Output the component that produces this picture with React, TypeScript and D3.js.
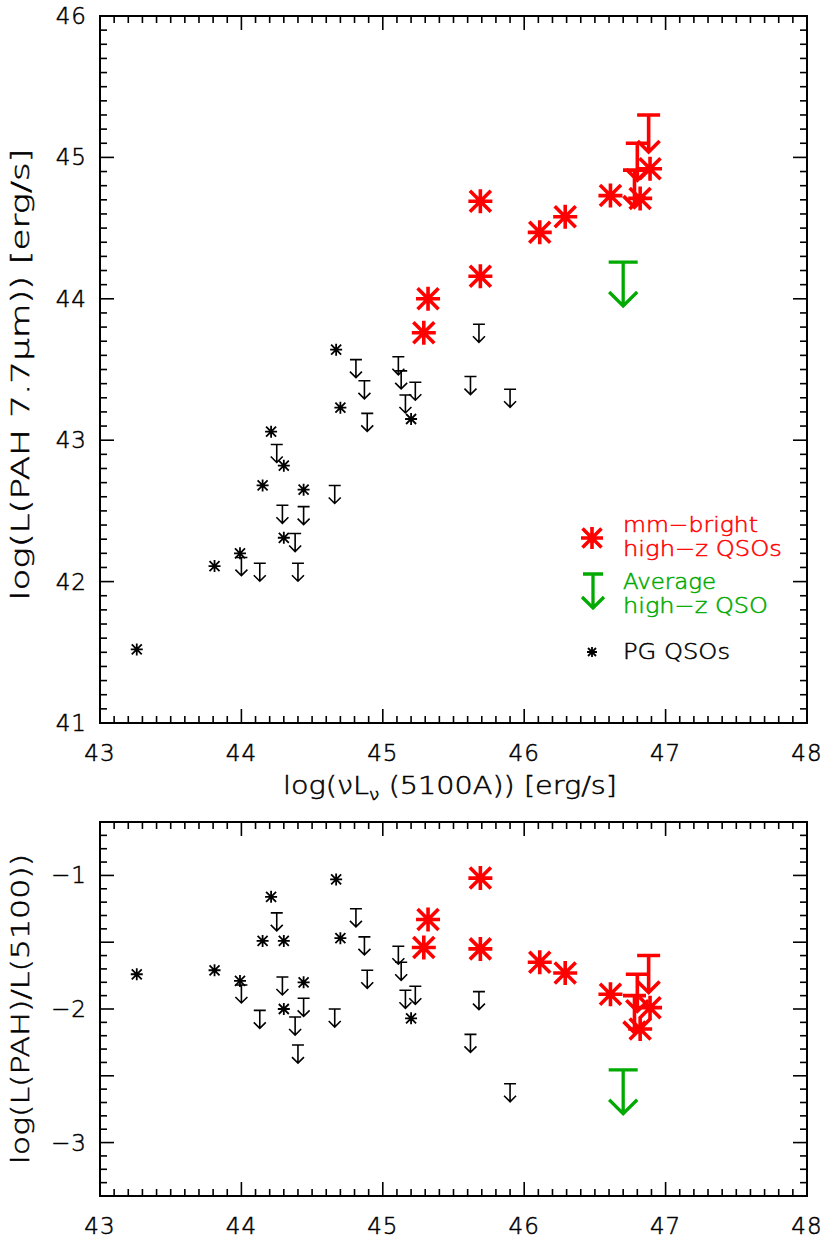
import { useEffect, useRef } from "react";
import * as d3 from "d3";

// PG QSOs with PAH 7.7um detections
const pgX = [43.26, 43.81, 43.99, 44.15, 44.21, 44.30, 44.30, 44.44, 44.67, 44.70, 45.20];
const pgPah = [41.52, 42.11, 42.20, 42.68, 43.06, 42.82, 42.31, 42.65, 43.64, 43.23, 43.15];
const pgRatio = [-1.74, -1.71, -1.79, -1.49, -1.16, -1.49, -2.00, -1.80, -1.03, -1.47, -2.07];

// PG QSOs, PAH upper limits
const pgLimX = [44.00, 44.13, 44.25, 44.29, 44.38, 44.40, 44.44, 44.66, 44.81, 44.87, 44.89, 45.11, 45.13, 45.16, 45.23, 45.62, 45.68, 45.90];
const pgLimPah = [42.17, 42.13, 42.97, 42.54, 42.34, 42.13, 42.53, 42.68, 43.57, 43.42, 43.19, 43.59, 43.49, 43.32, 43.41, 43.45, 43.82, 43.36];
const pgLimRatio = [-1.82, -2.01, -1.28, -1.76, -2.06, -2.27, -1.92, -2.00, -1.25, -1.46, -1.71, -1.53, -1.65, -1.86, -1.83, -2.19, -1.87, -2.56];

// mm-bright high-z QSOs
const mmX = [45.29, 45.32, 45.69, 45.69, 46.11, 46.29, 46.61, 46.82, 46.89];
const mmPah = [43.76, 44.00, 44.69, 44.16, 44.47, 44.58, 44.73, 44.71, 44.92];
const mmRatio = [-1.54, -1.33, -1.02, -1.55, -1.65, -1.73, -1.89, -2.15, -1.99];

// mm-bright high-z QSOs, upper limits
const mmLimX = [46.88, 46.80, 46.78];
const mmLimPah = [45.30, 45.10, 44.91];
const mmLimRatio = [-1.60, -1.74, -1.90];

// average (stacked) high-z QSO, upper limit
const avgX = [46.70];
const avgPah = [44.26];
const avgRatio = [-2.455];

const xTickValues = [43, 44, 45, 46, 47, 48];
const legendRed = ["mm\u2212bright", "high\u2212z QSOs"];
const legendGreen = ["Average", "high\u2212z QSO"];
const legendBlack = ["PG QSOs"];

const RED = "#ff0000";
const GREEN = "#00aa00";
const FONT = "DejaVu Sans, Verdana, sans-serif";
const WEIGHT = 200;

function asterisk(g, cx, cy, r, d, color, w) {
  g.append("path")
    .attr("d", `M${cx - r},${cy}H${cx + r}M${cx},${cy - r}V${cy + r}M${cx - d},${cy - d}L${cx + d},${cy + d}M${cx - d},${cy + d}L${cx + d},${cy - d}`)
    .attr("stroke", color)
    .attr("stroke-width", w)
    .attr("fill", "none");
}

function upperLimit(g, cx, cy, hb, len, head, color, w) {
  g.append("path")
    .attr("d", `M${cx - hb},${cy}H${cx + hb}M${cx},${cy}V${cy + len}M${cx - head},${cy + len - head}L${cx},${cy + len}L${cx + head},${cy + len - head}`)
    .attr("stroke", color)
    .attr("stroke-width", w)
    .attr("fill", "none");
}

function fmt(t) {
  return t < 0 ? "\u2212" + Math.abs(t) : String(t);
}

function label(sel, size, color = "#000") {
  return sel.attr("font-family", FONT).attr("font-size", size).attr("font-weight", WEIGHT)
    .attr("fill", color).attr("stroke", color).attr("stroke-width", 0.5);
}

export default function App() {
  const ref = useRef(null);

  useEffect(() => {
    const svg = d3.select(ref.current);
    svg.selectAll("*").remove();

    const left = 100, right = 807;
    const x = d3.scaleLinear().domain([43, 48]).range([left, right]);

    const panels = [
      { top: 16, bottom: 723, domain: [41, 46], nMinor: 50, half: false,
        det: [pgPah, mmPah], lim: [pgLimPah, mmLimPah, avgPah] },
      { top: 822, bottom: 1196, domain: [-3.4, -0.6], nMinor: 28, half: true,
        det: [pgRatio, mmRatio], lim: [pgLimRatio, mmLimRatio, avgRatio] },
    ];

    panels.forEach((p) => {
      const y = d3.scaleLinear().domain(p.domain).range([p.bottom, p.top]);
      const g = svg.append("g");

      // frame
      g.append("rect")
        .attr("x", left).attr("y", p.top)
        .attr("width", right - left).attr("height", p.bottom - p.top)
        .attr("fill", "none").attr("stroke", "#000").attr("stroke-width", 2);

      // x ticks, top and bottom
      x.ticks(50).forEach((t) => {
        const isMajor = Math.abs(t - Math.round(t)) < 1e-6;
        const len = isMajor ? 14 : 7;
        const px = x(t);
        g.append("line").attr("x1", px).attr("x2", px).attr("y1", p.bottom).attr("y2", p.bottom - len)
          .attr("stroke", "#000").attr("stroke-width", 1.6);
        g.append("line").attr("x1", px).attr("x2", px).attr("y1", p.top).attr("y2", p.top + len)
          .attr("stroke", "#000").attr("stroke-width", 1.6);
      });
      xTickValues.forEach((t) => {
        label(g.append("text"), 23)
          .attr("x", x(t)).attr("y", p.bottom + 38)
          .attr("text-anchor", "middle")
          .attr("letter-spacing", 1)
          .text(fmt(t));
      });

      // y ticks, left and right
      y.ticks(p.nMinor).forEach((t) => {
        const step = p.half ? 2 : 1;
        const isMajor = Math.abs(t * step - Math.round(t * step)) < 1e-6;
        const len = isMajor ? 14 : 7;
        const py = y(t);
        g.append("line").attr("x1", left).attr("x2", left + len).attr("y1", py).attr("y2", py)
          .attr("stroke", "#000").attr("stroke-width", 1.6);
        g.append("line").attr("x1", right).attr("x2", right - len).attr("y1", py).attr("y2", py)
          .attr("stroke", "#000").attr("stroke-width", 1.6);
        if (Math.abs(t - Math.round(t)) < 1e-6) {
          label(g.append("text"), 23)
            .attr("x", left - 13).attr("y", py + 8)
            .attr("text-anchor", "end")
            .attr("letter-spacing", 1)
            .text(fmt(Math.round(t)));
        }
      });

      // PG detections and limits
      pgX.forEach((v, i) => asterisk(g, x(v), y(p.det[0][i]), 6, 5, "#000", 1.8));
      pgLimX.forEach((v, i) => upperLimit(g, x(v), y(p.lim[0][i]), 6, 18, 6, "#000", 1.6));
      // average high-z QSO
      avgX.forEach((v, i) => upperLimit(g, x(v), y(p.lim[2][i]), 14.5, 44, 14, GREEN, 3.3));
      // mm-bright high-z QSOs
      mmLimX.forEach((v, i) => upperLimit(g, x(v), y(p.lim[1][i]), 11.5, 37, 11, RED, 3.6));
      mmX.forEach((v, i) => asterisk(g, x(v), y(p.det[1][i]), 12, 10.5, RED, 3.6));
    });

    // axis titles
    label(svg.append("text"), 24)
      .attr("x", 283).attr("y", 794)
      .attr("textLength", 334).attr("lengthAdjust", "spacingAndGlyphs")
      .call((t) => {
        t.append("tspan").text("log(\u03bdL");
        t.append("tspan").attr("font-size", 16).attr("dy", 6).text("\u03bd");
        t.append("tspan").attr("dy", -6).text(" (5100A)) [erg/s]");
      });

    label(svg.append("text"), 24)
      .attr("transform", `translate(29,${(16 + 723) / 2 + 5}) rotate(-90)`)
      .attr("text-anchor", "middle")
      .attr("textLength", 452).attr("lengthAdjust", "spacingAndGlyphs")
      .text("log(L(PAH 7.7\u03bcm)) [erg/s]");

    label(svg.append("text"), 24)
      .attr("transform", `translate(29,${(822 + 1196) / 2}) rotate(-90)`)
      .attr("text-anchor", "middle")
      .attr("textLength", 310).attr("lengthAdjust", "spacingAndGlyphs")
      .text("log(L(PAH)/L(5100))");

    // legend
    const lg = svg.append("g");
    const legendWidths = [[135, 159], [93, 145], [107]];
    asterisk(lg, 592, 538, 11, 9.5, RED, 3.6);
    legendRed.forEach((s, i) => {
      label(lg.append("text"), 21, RED).attr("x", 623).attr("y", 532 + i * 23.5)
        .attr("textLength", legendWidths[0][i]).attr("lengthAdjust", "spacingAndGlyphs")
        .text(s);
    });
    upperLimit(lg, 593, 574, 10, 34, 11, GREEN, 3.3);
    legendGreen.forEach((s, i) => {
      label(lg.append("text"), 21, GREEN).attr("x", 623).attr("y", 589 + i * 23.5)
        .attr("textLength", legendWidths[1][i]).attr("lengthAdjust", "spacingAndGlyphs")
        .text(s);
    });
    asterisk(lg, 592, 652, 5, 4, "#000", 1.8);
    legendBlack.forEach((s, i) => {
      label(lg.append("text"), 21).attr("x", 623).attr("y", 659)
        .attr("textLength", legendWidths[2][i]).attr("lengthAdjust", "spacingAndGlyphs")
        .text(s);
    });
  }, []);

  return (
    <svg ref={ref} width={830} height={1246}
      style={{ position: "absolute", left: 0, top: 0, background: "#fff" }} />
  );
}
